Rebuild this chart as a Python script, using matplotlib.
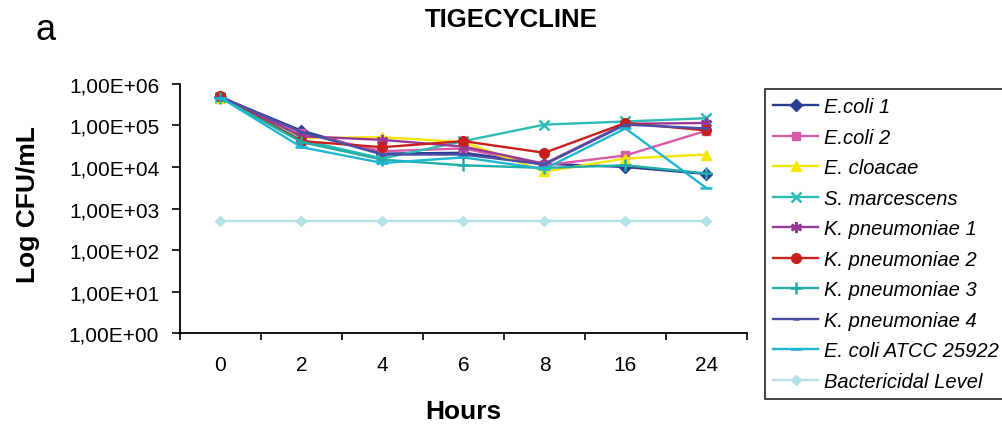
import matplotlib.pyplot as plt
import numpy as np

plt.rcParams['font.family'] = ['Liberation Sans', 'DejaVu Sans']

# Datos (UFC/mL)
hours = ['0', '2', '4', '6', '8', '16', '24']
ecoli1 = [4.8e5, 7.5e4, 2.1e4, 2.2e4, 1.2e4, 1.0e4, 6.8e3]
ecoli2 = [4.8e5, 6.5e4, 2.4e4, 2.8e4, 1.1e4, 1.9e4, 7.5e4]
cloacae = [4.6e5, 5.0e4, 5.2e4, 4.0e4, 7.8e3, 1.6e4, 2.0e4]
smarcescens = [4.8e5, 4.5e4, 1.6e4, 4.2e4, 1.05e5, 1.25e5, 1.5e5]
kpn1 = [5.0e5, 5.5e4, 4.5e4, 3.1e4, 1.2e4, 1.1e5, 1.15e5]
kpn2 = [5.0e5, 4.2e4, 3.0e4, 4.2e4, 2.2e4, 1.15e5, 7.6e4]
kpn3 = [4.7e5, 4.0e4, 1.5e4, 1.1e4, 9.5e3, 1.1e4, 7.0e3]
kpn4 = [4.9e5, 7.0e4, 2.0e4, 2.0e4, 1.15e4, 1.05e5, 8.5e4]
atcc = [4.7e5, 3.0e4, 1.25e4, 1.7e4, 9.0e3, 8.5e4, 3.1e3]
bactericidal = [5e2, 5e2, 5e2, 5e2, 5e2, 5e2, 5e2]

series = [
    ('E.coli 1', ecoli1, '#283c92', 'D', 6),
    ('E.coli 2', ecoli2, '#d65aa8', 's', 6),
    ('E. cloacae', cloacae, '#f7e600', '^', 7),
    ('S. marcescens', smarcescens, '#2cbcb4', 'x', 7),
    ('K. pneumoniae 1', kpn1, '#963a96', (6, 2, 0), 8),
    ('K. pneumoniae 2', kpn2, '#c8201e', 'o', 7),
    ('K. pneumoniae 3', kpn3, '#22aea6', '+', 8),
    ('K. pneumoniae 4', kpn4, '#4a4fa6', '_', 5),
    ('E. coli ATCC 25922', atcc, '#1fb6d2', '_', 8),
    ('Bactericidal Level', bactericidal, '#b4e2e6', 'D', 5),
]

fig = plt.figure(figsize=(10.02, 4.31), dpi=100)
ax = fig.add_axes([0.1796, 0.225, 0.5659, 0.5778])

x = np.arange(len(hours))
for name, vals, color, marker, ms in series:
    ax.plot(x, vals, color=color, marker=marker, markersize=ms, linewidth=1.7,
            markeredgewidth=1.8 if marker in ('x', '+', '_') or isinstance(marker, tuple) else 1.0,
            label=name)

ax.set_yscale('log')
ax.set_ylim(1, 1e6)
ax.set_xlim(-0.5, len(hours) - 0.5)
yticks = [1e0, 1e1, 1e2, 1e3, 1e4, 1e5, 1e6]
ytick_labels = ['1,00E+00', '1,00E+01', '1,00E+02', '1,00E+03', '1,00E+04', '1,00E+05', '1,00E+06']
ax.set_yticks(yticks)
ax.set_yticklabels(ytick_labels)
ax.yaxis.set_minor_locator(plt.NullLocator())
ax.set_xticks(x)
ax.set_xticklabels(hours)
ax.set_xticks(np.arange(len(hours) + 1) - 0.5, minor=True)
ax.tick_params(axis='x', which='major', length=0, pad=16, labelsize=15)
ax.tick_params(axis='x', which='minor', length=5, width=1.2, direction='out')
ax.tick_params(axis='y', which='major', length=6, width=1.2, pad=9, labelsize=15)

for side in ('top', 'right'):
    ax.spines[side].set_visible(False)
for side in ('left', 'bottom'):
    ax.spines[side].set_linewidth(1.3)

fig.text(0.51, 0.953, 'TIGECYCLINE', ha='center', va='center', fontsize=18.5, fontweight='bold')
fig.text(0.045, 0.93, 'a', ha='center', va='center', fontsize=26)
fig.text(0.028, 0.525, 'Log CFU/mL', ha='center', va='center', rotation=90,
         fontsize=19, fontweight='bold')
fig.text(0.462, 0.044, 'Hours', ha='center', va='center', fontsize=19, fontweight='bold')

leg = ax.legend(loc='upper left', bbox_to_anchor=(765 / 1002, 1 - 90 / 431),
                bbox_transform=fig.transFigure, prop={'style': 'italic', 'size': 14.5},
                frameon=True, fancybox=False, edgecolor='#333333', framealpha=1,
                handlelength=2.2, handletextpad=0.3, labelspacing=0.57,
                borderpad=0.42, borderaxespad=0)
leg.get_frame().set_linewidth(1.3)

fig.savefig('out.png', dpi=100)
plt.close(fig)
